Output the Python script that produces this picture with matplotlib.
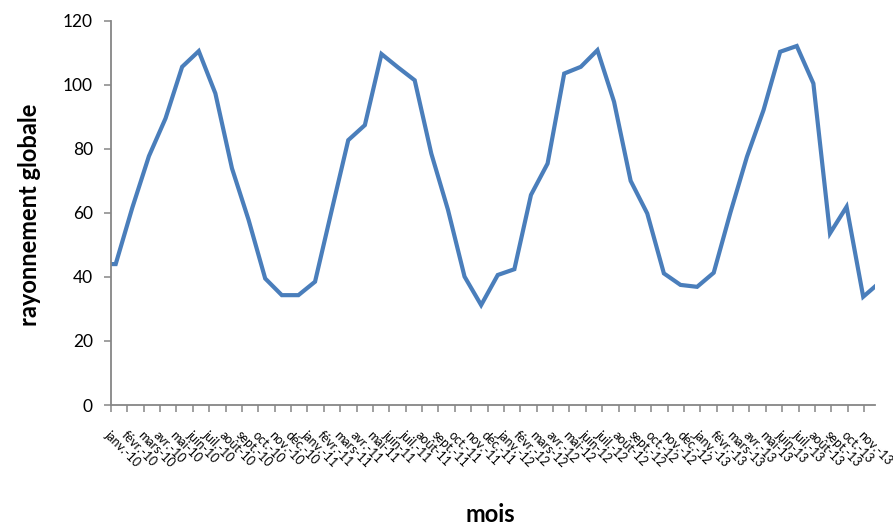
import numpy as np
import matplotlib.pyplot as plt

plt.rcParams['font.family'] = ['Lato', 'DejaVu Sans']

# month names for the 30-day date ticks (janv.-10 ... nov.-13)
mois_abr = ["janv.", "févr.", "mars", "avr.", "mai", "juin",
            "juil.", "août", "sept.", "oct.", "nov.", "déc."]
tick_labels = [f"{mois_abr[i % 12]}-{10 + i // 12}" for i in range(47)]

# monthly global radiation, déc.-09 .. nov.-13 (first and last are cut by the axis)
ray_2009 = [44.0]
ray_2010 = [44.0, 61.6, 77.7, 89.5, 105.6, 110.5, 97.3, 73.9, 57.8, 39.5, 34.3, 34.3]
ray_2011 = [38.5, 60.7, 82.7, 87.4, 109.6, 105.4, 101.4, 78.5, 61.0, 40.1, 31.2, 40.6]
ray_2012 = [42.4, 65.6, 75.4, 103.5, 105.6, 110.8, 94.7, 70.0, 59.8, 41.1, 37.5, 36.9]
ray_2013 = [41.3, 60.0, 77.5, 92.1, 110.3, 112.1, 100.4, 53.6, 61.9, 33.8, 38.3]
rayonnement = ray_2009 + ray_2010 + ray_2011 + ray_2012 + ray_2013

# excel date axis: one tick every 30 days, points one month apart
days = 8.6 + 30.44 * (np.arange(len(rayonnement)) - 1)
tick_days = np.arange(len(tick_labels)) * 30

fig = plt.figure(figsize=(8.93, 5.30), dpi=100)
ax = fig.add_axes([111 / 893, 1 - 405 / 530, 764 / 893, 384.3 / 530])

ax.plot(days, rayonnement, color='#4a7ebb', linewidth=3.0,
        solid_joinstyle='miter', solid_capstyle='butt')

ax.set_xlim(0, 1400)
ax.set_ylim(0, 120)
ax.set_yticks(np.arange(0, 121, 20))
ax.set_xticks(tick_days)
ax.set_xticklabels(tick_labels, rotation=-45, ha='left', va='top',
                   rotation_mode='anchor', fontsize=9)

for s in ['top', 'right']:
    ax.spines[s].set_visible(False)
for s in ['left', 'bottom']:
    ax.spines[s].set_color('#868686')
    ax.spines[s].set_linewidth(1.3)
ax.tick_params(axis='both', direction='out', color='#868686', length=5, width=1.1)
ax.tick_params(axis='y', labelsize=12.5, pad=8)
ax.tick_params(axis='x', pad=12)

fig.text(30 / 893, 1 - 215 / 530, "rayonnement globale", rotation=90,
         ha='center', va='center', fontsize=17, fontweight='bold')
fig.text(490 / 893, 1 - 515 / 530, "mois", ha='center', va='center',
         fontsize=17, fontweight='bold')

fig.savefig("out.png", dpi=100)
